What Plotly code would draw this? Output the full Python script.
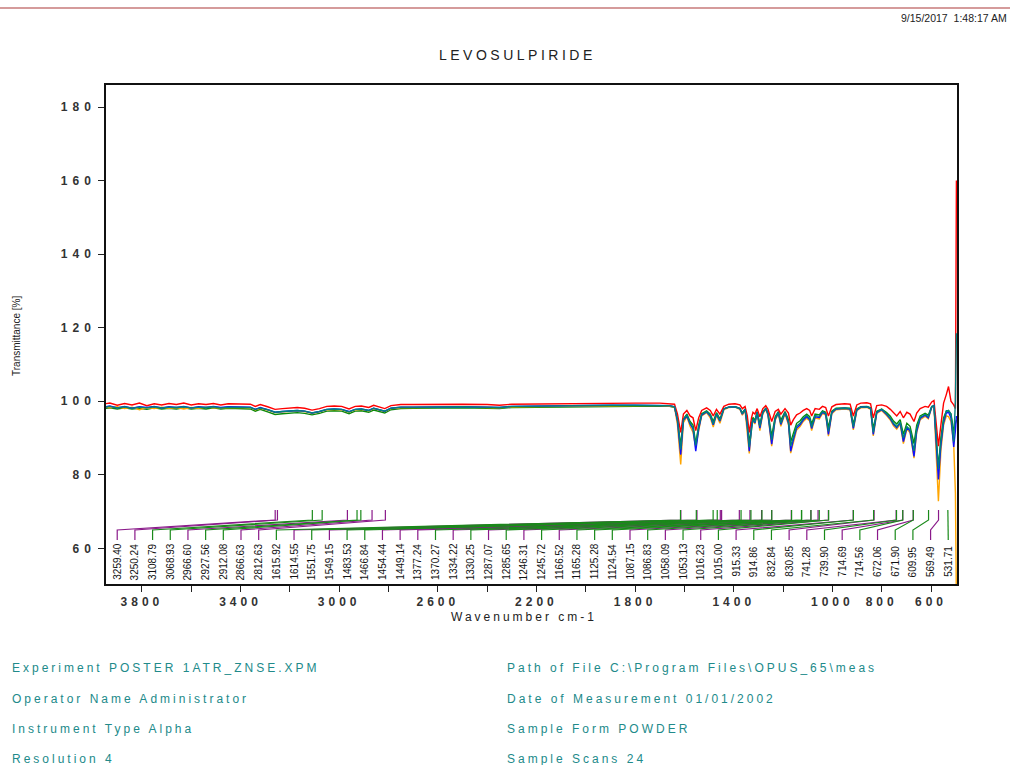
import numpy as np
import plotly.graph_objects as go

# ---------------- data ----------------
wavenumber = [3990, 3960, 3930, 3900, 3870, 3840, 3810, 3780, 3750, 3720, 3690, 3660, 3630, 3600, 3570,
              3540, 3510, 3480, 3450, 3420, 3390, 3360, 3340, 3320, 3290, 3260, 3230, 3200, 3170, 3140,
              3110, 3080, 3050, 3020, 2990, 2960, 2935, 2910, 2880, 2860, 2840, 2815, 2790, 2750, 2700,
              2600, 2500, 2400, 2350, 2300, 2200, 2100, 2000, 1900, 1800, 1700, 1660, 1640, 1628, 1615,
              1604, 1590, 1577, 1565, 1554, 1542, 1530, 1510, 1495, 1483, 1470, 1456, 1440, 1420, 1395,
              1375, 1365, 1354, 1345, 1337, 1328, 1322, 1314, 1305, 1294, 1282, 1270, 1261, 1246, 1232,
              1219, 1209, 1192, 1178, 1169, 1158, 1145, 1131, 1118, 1104, 1092, 1084, 1070, 1053, 1040,
              1027, 1016, 1002, 985, 950, 928, 915, 901, 885, 860, 845, 834, 820, 800, 780,
              765, 752, 739, 725, 712, 698, 685, 669, 658, 644, 624, 611, 597, 588, 577,
              570, 560, 549, 538, 529, 519, 508, 501, 497]

t_red = [99.6, 99.2, 99.5, 98.9, 99.4, 99.0, 99.5, 98.8, 99.3, 99.0, 99.4, 99.1, 99.5, 99.0, 99.3,
         99.1, 99.4, 99.0, 99.3, 99.2, 99.3, 99.2, 98.6, 99.1, 98.5, 97.8, 98.0, 98.2, 98.3, 98.1,
         97.6, 98.0, 98.6, 98.7, 98.6, 97.9, 98.6, 98.7, 98.3, 98.9, 98.5, 98.0, 98.8, 99.1, 99.1,
         99.2, 99.2, 99.1, 98.9, 99.2, 99.3, 99.3, 99.4, 99.4, 99.5, 99.5, 99.4, 99.2, 96.5, 91.5,
         96.5, 97.5, 96.0, 95.5, 92.0, 95.5, 97.5, 98.2, 97.5, 96.0, 97.8, 96.5, 98.6, 99.2, 99.3,
         99.0, 98.0, 98.6, 96.0, 91.5, 95.5, 97.0, 96.5, 98.0, 95.8, 98.0, 98.8, 97.8, 94.5, 97.2,
         97.8, 96.5, 98.0, 96.8, 93.5, 95.0, 96.3, 96.8, 97.5, 98.0, 97.5, 96.0, 98.0, 97.8, 98.6,
         98.3, 96.0, 98.5, 99.1, 99.3, 99.2, 96.0, 99.0, 99.5, 99.6, 99.3, 95.5, 98.8, 99.0, 98.6,
         97.8, 96.8, 96.0, 97.2, 95.5, 97.0, 96.5, 94.5, 96.8, 98.0, 98.6, 98.4, 99.8, 100.2, 93.0,
         87.8, 93.5, 99.5, 101.8, 104.0, 100.0, 99.0, 98.0, 160.0]

t_blue = [98.6, 98.3, 98.7, 98.2, 98.6, 98.1, 98.5, 98.3, 98.6, 98.2, 98.5, 98.3, 98.6, 98.2, 98.5,
          98.3, 98.6, 98.3, 98.5, 98.4, 98.5, 98.4, 97.8, 98.3, 97.7, 97.0, 97.2, 97.4, 97.5, 97.3,
          96.8, 97.2, 97.8, 97.9, 97.8, 97.2, 97.8, 97.9, 97.5, 98.1, 97.7, 97.3, 98.1, 98.4, 98.4,
          98.5, 98.5, 98.4, 98.3, 98.6, 98.7, 98.8, 98.8, 98.9, 98.9, 98.9, 98.8, 98.5, 94.5, 85.5,
          94.8, 96.0, 93.8, 92.5, 86.4, 92.5, 96.2, 97.1, 96.0, 93.6, 96.5, 94.6, 97.9, 98.4, 98.5,
          98.0, 96.5, 97.8, 93.0, 86.4, 93.0, 95.1, 94.1, 96.9, 92.7, 96.9, 98.0, 96.4, 88.3, 95.1,
          96.9, 93.7, 96.9, 94.1, 86.4, 89.6, 92.7, 93.6, 94.9, 95.8, 95.0, 92.6, 95.8, 95.6, 97.0,
          96.5, 91.0, 96.9, 97.9, 98.1, 97.9, 92.6, 97.6, 98.4, 98.5, 98.0, 91.0, 96.9, 97.7, 96.4,
          95.2, 93.7, 92.8, 94.1, 89.0, 92.8, 91.9, 85.0, 91.9, 95.3, 96.2, 95.5, 98.5, 98.8, 86.0,
          78.7, 88.0, 94.1, 96.8, 97.0, 95.5, 87.6, 92.0, 96.0]

t_green = [98.3, 98.0, 98.2, 97.9, 98.2, 97.9, 98.1, 97.8, 98.2, 97.9, 98.1, 97.9, 98.2, 97.9, 98.1,
           97.9, 98.2, 97.9, 98.1, 98.0, 98.0, 97.9, 97.3, 97.8, 97.1, 96.4, 96.6, 96.8, 96.9, 96.7,
           96.3, 96.7, 97.3, 97.4, 97.3, 96.6, 97.3, 97.4, 97.0, 97.6, 97.2, 96.8, 97.7, 98.0, 98.1,
           98.2, 98.2, 98.1, 98.0, 98.3, 98.4, 98.5, 98.6, 98.7, 98.7, 98.7, 98.6, 98.3, 95.0, 88.0,
           95.2, 96.5, 94.5, 93.5, 88.5, 93.5, 96.6, 97.4, 96.5, 94.5, 96.9, 95.2, 98.0, 98.4, 98.5,
           98.1, 96.8, 97.9, 94.0, 88.5, 93.8, 95.6, 94.8, 97.2, 93.8, 97.2, 98.1, 96.9, 90.5, 95.8,
           97.2, 94.8, 97.2, 95.0, 89.0, 91.5, 94.0, 94.7, 95.8, 96.5, 95.8, 93.8, 96.5, 96.3, 97.4,
           97.0, 92.8, 97.3, 98.1, 98.2, 98.1, 93.8, 97.9, 98.5, 98.6, 98.2, 92.5, 97.3, 97.9, 96.9,
           95.9, 94.6, 93.8, 95.0, 91.0, 94.0, 93.2, 88.5, 93.5, 96.0, 96.7, 96.2, 98.6, 98.7, 88.0,
           82.0, 90.0, 95.5, 97.2, 97.5, 96.5, 92.0, 94.0, 95.0]

t_orange = [98.4, 98.6, 98.2, 98.5, 98.0, 98.4, 97.7, 98.3, 98.0, 98.4, 98.1, 98.3, 97.9, 98.3, 98.1,
            98.4, 98.2, 98.3, 98.2, 98.3, 98.3, 98.2, 97.7, 98.1, 97.6, 96.9, 97.1, 97.3, 97.4, 97.2,
            96.7, 97.1, 97.7, 97.8, 97.7, 97.0, 97.7, 97.8, 97.4, 98.0, 97.6, 97.2, 98.0, 98.3, 98.3,
            98.4, 98.4, 98.3, 98.2, 98.5, 98.6, 98.7, 98.7, 98.8, 98.8, 98.8, 98.7, 98.4, 93.5, 82.8,
            94.2, 95.8, 93.2, 91.5, 87.5, 92.0, 96.0, 96.9, 95.5, 93.0, 96.2, 94.0, 97.7, 98.3, 98.4,
            97.8, 96.2, 97.6, 92.0, 85.8, 92.5, 94.8, 93.8, 96.6, 92.0, 96.6, 97.8, 96.1, 87.8, 94.8,
            96.6, 93.2, 96.6, 93.6, 85.9, 89.0, 92.2, 93.1, 94.5, 95.4, 94.6, 92.0, 95.4, 95.2, 96.7,
            96.2, 90.5, 96.6, 97.7, 97.9, 97.7, 92.2, 97.4, 98.2, 98.3, 97.8, 90.6, 96.7, 97.5, 96.1,
            94.9, 93.3, 92.4, 93.8, 88.5, 92.4, 91.5, 84.5, 91.5, 95.0, 95.9, 95.2, 98.3, 98.6, 84.0,
            72.8, 86.5, 93.5, 96.0, 95.8, 94.5, 88.5, 75.0, 45.0]

t_teal = [98.5, 98.3, 98.6, 98.2, 98.5, 98.1, 98.4, 98.2, 98.5, 98.2, 98.4, 98.3, 98.5, 98.2, 98.4,
          98.3, 98.5, 98.2, 98.4, 98.3, 98.4, 98.3, 97.8, 98.2, 97.7, 97.0, 97.2, 97.4, 97.5, 97.3,
          96.8, 97.2, 97.8, 97.9, 97.8, 97.1, 97.8, 97.9, 97.5, 98.1, 97.7, 97.3, 98.1, 98.4, 98.4,
          98.5, 98.5, 98.4, 98.3, 98.6, 98.7, 98.8, 98.8, 98.9, 98.9, 98.9, 98.8, 98.5, 95.0, 86.9,
          95.0, 96.2, 94.1, 92.8, 88.0, 93.0, 96.4, 97.2, 96.2, 93.8, 96.6, 94.8, 97.9, 98.4, 98.5,
          98.0, 96.6, 97.8, 93.5, 87.5, 93.2, 95.2, 94.3, 96.9, 93.2, 96.9, 98.0, 96.5, 89.5, 95.3,
          96.9, 94.0, 96.9, 94.4, 87.8, 90.5, 93.2, 94.0, 95.3, 96.1, 95.3, 93.0, 96.1, 95.9, 97.2,
          96.7, 91.8, 97.1, 98.0, 98.1, 98.0, 93.0, 97.7, 98.4, 98.5, 98.1, 91.5, 97.1, 97.8, 96.6,
          95.4, 94.0, 93.1, 94.3, 90.0, 93.1, 92.3, 86.5, 92.5, 95.6, 96.4, 95.8, 98.5, 98.8, 87.0,
          81.5, 89.0, 94.8, 97.4, 97.4, 96.5, 89.0, 100.0, 118.5]

peak_wavenumbers = [3259.40, 3250.24, 3108.79, 3068.93, 2966.60, 2927.56, 2912.08, 2866.63, 2812.63,
                    1615.92, 1614.55, 1551.75, 1549.15, 1483.53, 1466.84, 1454.44, 1449.14, 1377.24,
                    1370.27, 1334.22, 1330.25, 1287.07, 1285.65, 1246.31, 1245.72, 1166.52, 1165.28,
                    1125.28, 1124.54, 1087.15, 1086.83, 1058.09, 1053.13, 1016.23, 1015.00, 915.33,
                    914.86, 832.84, 830.85, 741.28, 739.90, 714.69, 714.56, 672.06, 671.90, 609.95,
                    569.49, 531.71]
peak_group = ["P", "P", "G", "G", "P", "G", "G", "P", "P", "G", "P", "G", "P", "G", "G", "P",
              "P", "P", "G", "P", "G", "P", "G", "P", "G", "P", "G", "G", "G", "P", "G", "P",
              "G", "P", "G", "P", "G", "G", "P", "P", "G", "P", "G", "P", "G", "G", "P", "G"]

y_tick_values = [60, 80, 100, 120, 140, 160, 180]
x_tick_values = [3800, 3600, 3400, 3200, 3000, 2800, 2600, 2400, 2200, 2000, 1800, 1600, 1400, 1200,
                 1000, 800, 600]
x_tick_labels = ["3800", "", "3400", "", "3000", "", "2600", "", "2200", "", "1800", "", "1400", "",
                 "1000", "800", "600"]

chart_title = "LEVOSULPIRIDE"
timestamp = "9/15/2017  1:48:17 AM"
x_title = "Wavenumber cm-1"
y_title = "Transmittance [%]"
info_left = ["Experiment POSTER 1ATR_ZNSE.XPM", "Operator Name Administrator",
             "Instrument Type Alpha", "Resolution 4"]
info_right = ["Path of File C:\\Program Files\\OPUS_65\\meas", "Date of Measurement 01/01/2002",
              "Sample Form POWDER", "Sample Scans 24"]

# ---------------- layout geometry ----------------
W, H = 1010, 765
ML, MR, MT, MB = 106, 53, 85, 181
PW, PH = W - ML - MR, H - MT - MB
X_RANGE = [3945.5, 494.6]
Y_RANGE = [50.3, 186.0]


def px2paper(px):
    return (px - ML) / PW


def py2paper(py):
    return (H - MB - py) / PH


def py2val(py):
    return Y_RANGE[1] - (py - MT) * (Y_RANGE[1] - Y_RANGE[0]) / PH


def spaced(text, sp):
    return f'<span style="letter-spacing:{sp}px">{text}</span>'


fig = go.Figure()

series = [("green", t_green, "#0a8a0a"), ("red", t_red, "#ff0000"), ("orange", t_orange, "#ffa500"),
          ("blue", t_blue, "#1010ff"), ("teal", t_teal, "#008080")]
for name, vals, col in series:
    fig.add_trace(go.Scatter(x=wavenumber, y=vals, mode="lines", name=name,
                             line=dict(color=col, width=1.4), hoverinfo="skip", showlegend=False))

# peak labels: evenly spaced label slots with leader lines to the peaks
n = len(peak_wavenumbers)
slot_x = np.linspace(3900, 530, n)
y_tick_lo, y_tick_hi = py2val(540), py2val(530)
y_lead_top, y_peak_top = py2val(520), py2val(510)
group_color = {"P": "#8a1a8a", "G": "#1a8a1a"}
for g, col in group_color.items():
    xs, ys = [], []
    for i in range(n):
        if peak_group[i] != g:
            continue
        xs += [slot_x[i], slot_x[i], peak_wavenumbers[i], peak_wavenumbers[i], None]
        ys += [y_tick_lo, y_tick_hi, y_lead_top, y_peak_top, None]
    fig.add_trace(go.Scatter(x=xs, y=ys, mode="lines", line=dict(color=col, width=1.2),
                             hoverinfo="skip", showlegend=False))

annotations = []
y_lab = py2val(561.5)
for i in range(n):
    annotations.append(dict(x=slot_x[i], y=y_lab, xref="x", yref="y", text=f"{peak_wavenumbers[i]:.2f}",
                            textangle=-90, showarrow=False, xanchor="center", yanchor="middle",
                            font=dict(family="Liberation Sans, Arial", size=10, color="#111")))

annotations.append(dict(x=px2paper(517), y=py2paper(55), xref="paper", yref="paper",
                        text=spaced(chart_title, 3.5), showarrow=False, xanchor="center", yanchor="middle",
                        font=dict(family="Liberation Sans, Arial", size=14, color="#222")))
annotations.append(dict(x=px2paper(1009), y=py2paper(18), xref="paper", yref="paper",
                        text=timestamp, showarrow=False, xanchor="right", yanchor="middle",
                        font=dict(family="Liberation Sans, Arial", size=10.5, color="#222")))
annotations.append(dict(x=px2paper(524), y=py2paper(617), xref="paper", yref="paper",
                        text=spaced(x_title, 3), showarrow=False, xanchor="center", yanchor="middle",
                        font=dict(family="Liberation Sans, Arial", size=12, color="#222")))
annotations.append(dict(x=px2paper(16), y=py2paper(336), xref="paper", yref="paper",
                        text=y_title, showarrow=False, xanchor="center", yanchor="middle", textangle=-90,
                        font=dict(family="Liberation Sans, Arial", size=10, color="#222")))
info_y = [668, 699, 729, 759]
for txt, yy in zip(info_left, info_y):
    annotations.append(dict(x=px2paper(10), y=py2paper(yy), xref="paper", yref="paper",
                            text=spaced(txt, 3), showarrow=False, xanchor="left", yanchor="middle",
                            font=dict(family="Liberation Sans, Arial", size=12, color="#218a8a")))
for txt, yy in zip(info_right, info_y):
    annotations.append(dict(x=px2paper(505), y=py2paper(yy), xref="paper", yref="paper",
                            text=spaced(txt, 3), showarrow=False, xanchor="left", yanchor="middle",
                            font=dict(family="Liberation Sans, Arial", size=12, color="#218a8a")))

shapes = [dict(type="line", xref="paper", yref="paper", x0=px2paper(0), x1=px2paper(W),
               y0=py2paper(8), y1=py2paper(8), line=dict(color="#c77a7a", width=1.5))]

tickfont = dict(family="Liberation Sans, Arial", size=12, color="#333", weight="bold")
fig.update_layout(
    width=W, height=H, margin=dict(l=ML, r=MR, t=MT, b=MB),
    paper_bgcolor="white", plot_bgcolor="white", showlegend=False,
    annotations=annotations, shapes=shapes,
    xaxis=dict(range=X_RANGE, tickmode="array", tickvals=x_tick_values,
               ticktext=[spaced(t, 4) if t else "" for t in x_tick_labels],
               ticks="outside", ticklen=6, tickwidth=1.2, tickcolor="#222",
               showline=True, mirror=True, linecolor="#111", linewidth=1.5,
               showgrid=False, zeroline=False, tickfont=tickfont),
    yaxis=dict(range=Y_RANGE, tickmode="array", tickvals=y_tick_values,
               ticktext=[spaced(str(v), 5) for v in y_tick_values],
               ticks="outside", ticklen=6, tickwidth=1.2, tickcolor="#222",
               showline=True, mirror=True, linecolor="#111", linewidth=1.5,
               showgrid=False, zeroline=False, tickfont=tickfont),
)

fig.write_html("out.html", config={"displayModeBar": False},
               post_script="document.body.style.margin='0';")
